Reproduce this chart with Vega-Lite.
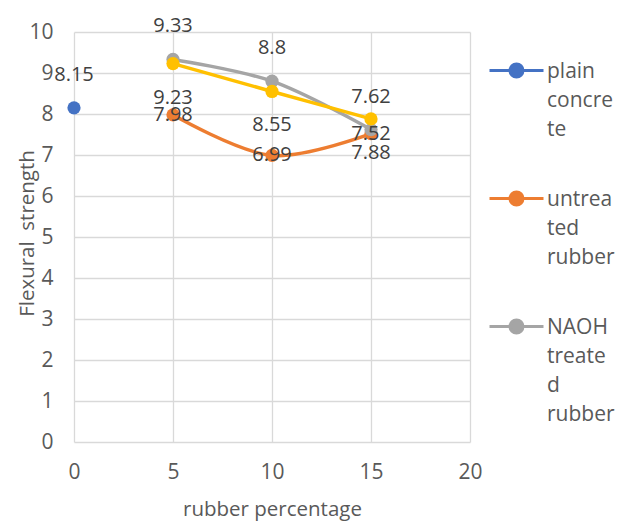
{
  "$schema": "https://vega.github.io/schema/vega-lite/v6.json",
  "width": 396,
  "height": 410,
  "autosize": {"type": "none"},
  "padding": {"left": 74, "top": 32, "right": 153, "bottom": 86},
  "background": "white",
  "config": {
    "font": "Open Sans",
    "view": {"stroke": null},
    "axis": {
      "grid": true,
      "gridColor": "#D9D9D9",
      "gridWidth": 1.3,
      "domain": false,
      "ticks": false,
      "labelFont": "Open Sans",
      "labelFontSize": 21,
      "labelColor": "#595959",
      "labelFlush": false,
      "labelOverlap": false,
      "titleFont": "Open Sans",
      "titleFontSize": 20.5,
      "titleFontWeight": "normal",
      "titleColor": "#595959"
    }
  },
  "data": {
    "values": [
      {"series": "plain concrete", "pct": 0, "strength": 8.15},
      {"series": "untreated rubber", "pct": 5, "strength": 7.98},
      {"series": "untreated rubber", "pct": 10, "strength": 6.99},
      {"series": "untreated rubber", "pct": 15, "strength": 7.52},
      {"series": "NAOH treated rubber", "pct": 5, "strength": 9.33},
      {"series": "NAOH treated rubber", "pct": 10, "strength": 8.8},
      {"series": "NAOH treated rubber", "pct": 15, "strength": 7.62},
      {"series": "series 4", "pct": 5, "strength": 9.23},
      {"series": "series 4", "pct": 10, "strength": 8.55},
      {"series": "series 4", "pct": 15, "strength": 7.88}
    ]
  },
  "encoding": {
    "x": {
      "field": "pct",
      "type": "quantitative",
      "scale": {"domain": [0, 20], "nice": false},
      "axis": {
        "title": "rubber percentage",
        "values": [0, 5, 10, 15, 20],
        "labelPadding": 19,
        "titleY": 67,
        "titleBaseline": "middle"
      }
    },
    "y": {
      "field": "strength",
      "type": "quantitative",
      "scale": {"domain": [0, 10], "nice": false},
      "axis": {
        "title": "Flexural\u00a0 strength",
        "values": [0, 1, 2, 3, 4, 5, 6, 7, 8, 9, 10],
        "labelPadding": 21,
        "titleX": -47,
        "titleY": 201,
        "titleAngle": -90,
        "titleAlign": "center",
        "titleBaseline": "middle"
      }
    },
    "color": {
      "field": "series",
      "type": "nominal",
      "scale": {
        "domain": ["plain concrete", "untreated rubber", "NAOH treated rubber", "series 4"],
        "range": ["#4472C4", "#ED7D31", "#A5A5A5", "#FFC000"]
      },
      "legend": {
        "title": null,
        "orient": "none",
        "legendX": 414,
        "legendY": 10,
        "padding": 0,
        "values": ["plain concrete", "untreated rubber", "NAOH treated rubber"],
        "symbolType": "M-1,0H1M-0.24,0A0.24,0.24 0 1,1 0.24,0A0.24,0.24 0 1,1 -0.24,0Z",
        "symbolSize": 2916,
        "symbolStrokeWidth": 3,
        "labelFont": "Open Sans",
        "labelFontSize": 21,
        "labelColor": "#595959",
        "labelLimit": 300,
        "labelOffset": 2,
        "labelBaseline": "top",
        "rowPadding": 30,
        "labelExpr": "datum.label == 'plain concrete' ? ['plain', 'concre', 'te'] : datum.label == 'untreated rubber' ? ['untrea', 'ted', 'rubber'] : ['NAOH', 'treate', 'd', 'rubber']",
        "encode": {
          "symbols": {
            "update": {
              "fill": {"scale": "color", "field": "value"},
              "stroke": {"scale": "color", "field": "value"},
              "opacity": {"value": 1}
            }
          },
          "labels": {
            "update": {"lineHeight": {"value": 29}, "dy": {"value": -10}}
          }
        }
      }
    }
  },
  "layer": [
    {
      "transform": [{"filter": "datum.series != 'plain concrete'"}],
      "mark": {"type": "line", "interpolate": "catmull-rom", "strokeWidth": 3.5}
    },
    {
      "mark": {"type": "point", "filled": true, "size": 175, "opacity": 1}
    },
    {
      "transform": [{"filter": "datum.series == 'plain concrete' || datum.series == 'NAOH treated rubber'"}],
      "mark": {"type": "text", "dy": -33, "fontSize": 20, "baseline": "middle"},
      "encoding": {"text": {"field": "strength", "type": "nominal"}, "color": {"value": "#404040"}}
    },
    {
      "transform": [{"filter": "datum.series == 'series 4'"}],
      "mark": {"type": "text", "dy": 34, "fontSize": 20, "baseline": "middle"},
      "encoding": {"text": {"field": "strength", "type": "nominal"}, "color": {"value": "#404040"}}
    },
    {
      "transform": [{"filter": "datum.series == 'untreated rubber'"}],
      "mark": {"type": "text", "dy": 0, "fontSize": 20, "baseline": "middle"},
      "encoding": {"text": {"field": "strength", "type": "nominal"}, "color": {"value": "#404040"}}
    }
  ]
}
